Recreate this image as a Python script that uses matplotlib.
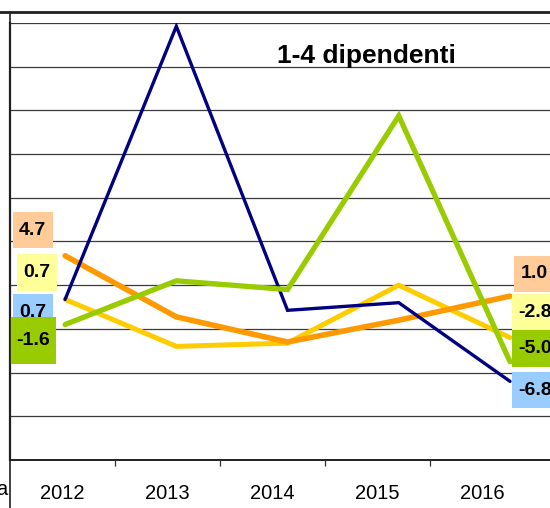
import matplotlib
matplotlib.use("Agg")
import matplotlib.pyplot as plt
from matplotlib.lines import Line2D
from matplotlib.path import Path
from matplotlib.ticker import FixedLocator

plt.rcParams['font.family'] = ['Liberation Sans', 'DejaVu Sans']

# ---- data ----
years = ['2012', '2013', '2014', '2015', '2016']
blue_vals = [0.7, 25.7, -0.3, 0.4, -6.8]
green_vals = [-1.6, 2.4, 1.6, 17.5, -5.0]
orange_vals = [4.7, -0.9, -3.2, -1.2, 1.0]
yellow_vals = [0.7, -3.6, -3.3, 2.0, -2.8]
title = '1-4 dipendenti'

W, H = 550, 508
fig = plt.figure(figsize=(W / 100, H / 100), dpi=100)
fig.patch.set_facecolor('white')

left_px, right_px, top_px, bot_px = 9.5, 565.6, 23, 460
ax = fig.add_axes([left_px / W, 1 - bot_px / H, (right_px - left_px) / W, (bot_px - top_px) / H])
ax.set_facecolor('white')

x = list(range(len(years)))
series = [
    (yellow_vals, '#FFCC00', 3.6, 2),
    (orange_vals, '#FF9900', 4.0, 3),
    (blue_vals, '#000080', 2.4, 4),
    (green_vals, '#99CC00', 3.8, 5),
]
for vals, col, lw, z in series:
    ax.plot(x, vals, color=col, lw=lw, zorder=z, solid_joinstyle='miter', solid_capstyle='round')

ax.set_xlim(-0.5, 4.5)
ax.set_ylim(-14, 26)
ax.set_yticks(list(range(-14, 27, 4)))
ax.yaxis.grid(True, color='#3a3a3a', lw=0.9)
ax.set_axisbelow(True)
ax.tick_params(axis='y', length=0, labelleft=False)
ax.tick_params(axis='x', length=0, labelbottom=False)
for s in ['top', 'right']:
    ax.spines[s].set_visible(False)
ax.spines['left'].set_linewidth(1.6)
ax.spines['bottom'].set_linewidth(1.4)
ax.spines['left'].set_color('#202020')
ax.spines['bottom'].set_color('#202020')

# category label axis
ax2 = ax.twiny()
ax2.set_xlim(-0.5, 4.79)
ax2.xaxis.set_ticks_position('bottom')
ax2.xaxis.set_label_position('bottom')
ax2.set_xticks(x)
ax2.set_xticklabels(years, fontsize=14.5)
ax2.xaxis.set_minor_locator(FixedLocator([0.5, 1.5, 2.5, 3.5]))
ax2.tick_params(axis='x', which='major', length=0, pad=17.2)
ax2.tick_params(axis='x', which='minor', length=4.3, width=0.9, direction='out', color='#303030')
for s in ax2.spines.values():
    s.set_visible(False)


def make_box(px, py):
    def box(x0, y0, width, height, mutation_size):
        ax_ = px * mutation_size
        ay_ = py * mutation_size
        xa, xb = x0 - ax_, x0 + width + ax_
        ya, yb = y0 - ay_, y0 + height + ay_
        return Path([(xa, ya), (xb, ya), (xb, yb), (xa, yb), (xa, ya)], closed=True)
    return box


# data labels
def lab(xi, val, dx, dy, fc, z, py=0.5):
    ax.annotate(f'{val:.1f}', xy=(xi, val), xytext=(dx, dy), textcoords='offset points',
                ha='center', va='center', fontsize=14, fontweight='bold', color='black',
                bbox=dict(boxstyle=make_box(0.33, py), fc=fc, ec='none'), zorder=z,
                annotation_clip=False)

lab(0, orange_vals[0], -23.3, 18.5, '#FFCC99', 10)
lab(0, yellow_vals[0], -20.4, 19.4, '#FFFF99', 11)
lab(0, blue_vals[0], -23.3, -9.4, '#99CCFF', 12)
lab(0, green_vals[0], -23.1, -11.5, '#99CC00', 13, py=0.75)

lab(4, orange_vals[4], 17.5, 16.0, '#FFCC99', 10)
lab(4, yellow_vals[4], 18.2, 18.1, '#FFFF99', 11)
lab(4, green_vals[4], 18.2, 9.6, '#99CC00', 12)
lab(4, blue_vals[4], 18.2, -6.3, '#99CCFF', 13)

fig.text(366 / W, 1 - 63 / H, title, ha='center', va='baseline', fontsize=19, fontweight='bold')
fig.text(7 / W, 1 - 495 / H, 'a', ha='right', va='baseline', fontsize=14.5)

# frame lines
fig.add_artist(Line2D([0, 1], [1 - 12 / H, 1 - 12 / H], transform=fig.transFigure, color='#202020', lw=2.0))
fig.add_artist(Line2D([left_px / W, left_px / W], [0, 1 - 12 / H], transform=fig.transFigure, color='#202020', lw=1.2))

fig.savefig('out.png', dpi=100)
